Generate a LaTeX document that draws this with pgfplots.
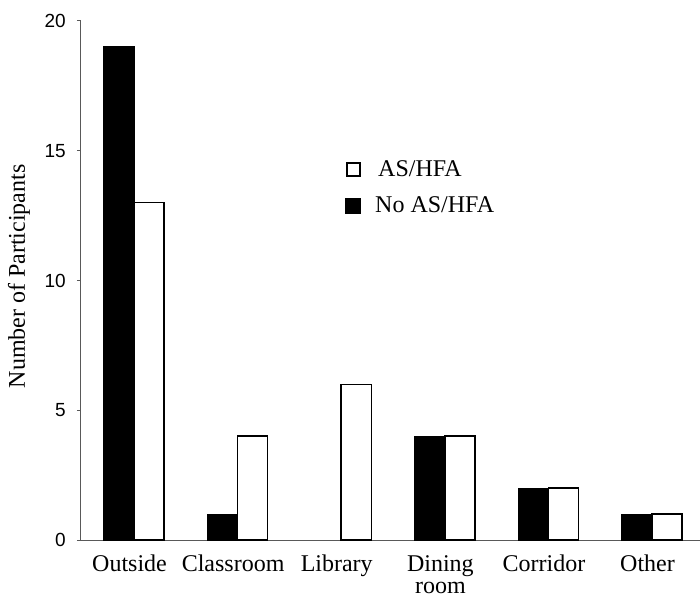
\documentclass[border=0pt]{standalone}
\usepackage{fontspec}
\setmainfont{Liberation Serif}
\setsansfont{Liberation Sans}
\usepackage{pgfplots}
\pgfplotsset{compat=1.18}
\begin{document}
\begin{tikzpicture}
\useasboundingbox (-81bp,-59bp) rectangle (619bp,540bp);
\begin{axis}[
  at={(0,0)}, anchor=south west,
  width=619bp, height=519bp, scale only axis,
  xmin=-0.512, xmax=5.463, ymin=0, ymax=20,
  axis x line=bottom, axis y line=left,
  axis line style={-, draw=gray!70!black, line width=1bp},
  xtick={0,1,2,3,4,5},
  xticklabels={Outside, Classroom, Library, {Dining\\room}, Corridor, Other},
  x tick style={draw=none},
  xticklabel style={font=\fontsize{24bp}{22.5bp}\selectfont, align=center, inner sep=0pt, anchor=north, yshift=-11bp, xshift=-4.5bp},
  ytick={0,5,10,15,20},
  tick align=outside,
  y tick style={draw=gray!70!black, line width=1bp},
  major tick length=4bp,
  yticklabel style={font=\fontsize{19bp}{20bp}\sffamily, inner sep=0pt, anchor=east, xshift=-11bp},
  /pgf/number format/assume math mode=true,
  ylabel={Number of Participants},
  ylabel style={font=\fontsize{24bp}{26bp}\selectfont, at={(axis description cs:-0.0905,0.508)}, anchor=base},
  legend style={draw=none, fill=none, at={(axis description cs:0.4265,0.735)}, anchor=north west,
    font=\fontsize{24bp}{26bp}\selectfont, row sep=15bp, inner sep=0pt,
    /tikz/every odd column/.append style={column sep=12bp}},
  legend cell align=left,
]
\addplot[ybar, bar width=0.29, bar shift=0.145, fill=white, draw=black, line width=1.5bp,
  legend image code/.code={\draw[fill=white, draw=black, line width=2bp] (1bp,-6.5bp) rectangle (14bp,6.5bp);}]
  coordinates {(0,13) (1,4) (2,6) (3,4) (4,2) (5,1)};
\addlegendentry{\hspace{3bp}AS/HFA}
\addplot[ybar, bar width=0.29, bar shift=-0.145, fill=black, draw=black, line width=1bp,
  legend image code/.code={\draw[fill=black, draw=black, line width=1bp] (0bp,-7.5bp) rectangle (15bp,7.5bp);}]
  coordinates {(0,19) (1,1) (3,4) (4,2) (5,1)};
\addlegendentry{No AS/HFA}
\end{axis}
\end{tikzpicture}
\end{document}
